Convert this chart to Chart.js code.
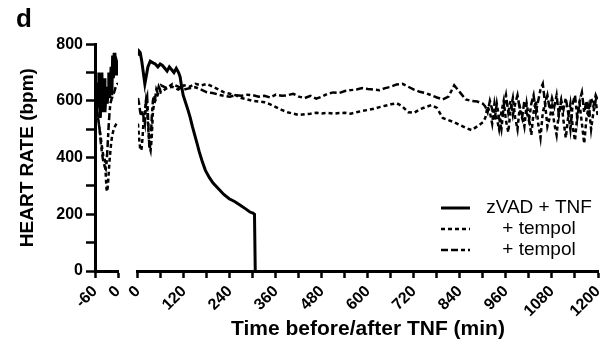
<!DOCTYPE html>
<html>
<head>
<meta charset="utf-8">
<script src="https://cdn.jsdelivr.net/npm/chart.js@4.4.1/dist/chart.umd.min.js"></script>
<style>
  html, body { margin: 0; padding: 0; background: #fff; }
  #wrap { width: 606px; height: 344px; }
</style>
</head>
<body>
<div id="wrap"><canvas id="hrChart"></canvas></div>
<script>
// time (min) before TNF
const preTime = [-60,-58,-56,-54,-52,-50,-48,-46,-44,-42,-40,-38,-36,-34,-32,-30,-28,-26,-24,-22,-20,-18,-16,-14,-12,-10,-8,-6,-4,-2,0];
const preSolid = [590,620,560,610,660,700,600,540,650,700,560,620,680,560,610,650,590,640,700,610,660,720,620,760,680,770,700,740,690,730,720];
const preDotted = [590,580,570,555,540,520,500,480,460,440,420,405,400,390,340,290,280,310,350,390,420,450,470,485,495,505,510,515,520,522,525];
const preDash = [600,590,575,560,540,520,500,470,440,420,400,385,375,365,360,380,420,470,520,560,590,600,610,615,625,630,640,650,655,660,660];

// zVAD + TNF after TNF
const solidTime = [0,3,6,10,14,18,22,26,32,38,45,52,58,64,70,76,82,88,94,100,106,110,114,118,124,130,136,142,148,154,160,168,176,186,196,210,224,238,252,266,280,292,300,304,306];
const solidPost = [760,775,770,740,700,660,690,720,740,735,730,720,730,725,715,705,720,710,700,715,700,685,650,620,595,570,543,510,480,451,420,385,355,330,310,290,270,255,245,233,220,208,204,200,0];

// tempol groups after TNF
const postTime = [0,3,6,9,12,15,18,21,24,27,30,33,36,39,42,45,48,51,54,57,60,
  75,90,105,120,135,150,165,180,195,210,225,240,255,270,285,300,315,330,345,360,375,390,405,420,435,450,465,480,495,510,525,540,555,570,585,600,615,630,645,660,675,690,705,720,735,750,765,780,795,810,825,840,855,870,885,900,
  906,912,918,924,930,936,942,948,954,960,966,972,978,984,990,996,1002,1008,1014,1020,1026,1032,1038,1044,1050,1056,1062,1068,1074,1080,1086,1092,1098,1104,1110,1116,1122,1128,1134,1140,1146,1152,1158,1164,1170,1176,1182,1188,1194,1200];
const postDotted = [520,470,430,425,470,540,560,600,570,500,440,425,470,560,590,600,610,620,630,640,630,
  645,650,640,655,650,660,655,660,650,640,630,625,620,610,605,600,598,595,588,578,568,560,555,550,553,555,558,556,558,555,557,558,555,560,565,568,572,578,583,588,592,580,560,558,570,578,585,575,540,532,525,515,505,497,510,525,
  540,580,560,520,590,540,500,560,600,530,490,570,610,540,500,580,550,510,590,540,480,560,600,520,470,560,590,510,540,580,520,480,560,600,530,470,540,590,510,460,550,590,520,450,540,580,500,560,600,540];
const postDash = [610,590,560,545,565,540,520,600,615,520,430,450,540,600,620,610,640,630,650,640,655,
  645,660,650,640,645,648,640,630,628,622,618,615,620,618,622,620,615,618,612,622,618,620,625,615,610,618,608,615,625,630,628,635,638,640,645,642,640,638,645,650,658,660,650,640,632,628,620,612,605,615,655,630,605,600,598,590,
  580,560,600,570,530,590,540,500,580,620,560,600,550,590,620,570,540,600,560,530,590,620,560,600,640,660,590,620,570,610,580,620,550,600,570,610,560,500,590,620,540,600,630,560,600,540,610,580,620,600];

const seriesLabels = ['zVAD + TNF', '+ tempol', '+ tempol'];

const pts = (t, v) => t.map((x, i) => ({x: x, y: v[i]}));
const FONT = "'Liberation Sans', Arial, Helvetica, sans-serif";
Chart.defaults.font.family = FONT;
Chart.defaults.color = '#000';

const solidStyle = {borderColor: '#000', borderWidth: 3, borderDash: []};
const dottedStyle = {borderColor: '#000', borderWidth: 2.5, borderDash: [4, 3]};
const dashStyle = {borderColor: '#000', borderWidth: 2.5, borderDash: [7, 3, 7, 3, 4, 3]};

// legend drawn inside the plot, lower right
const insideLegend = {
  id: 'insideLegend',
  afterDatasetsDraw(chart) {
    const {ctx, chartArea} = chart;
    ctx.save();
    [3, 4, 5].forEach((di, i) => {
      const ds = chart.data.datasets[di];
      const y = chartArea.bottom - 63 + i * 21;
      ctx.beginPath();
      ctx.setLineDash(ds.borderDash);
      ctx.lineWidth = ds.borderWidth;
      ctx.strokeStyle = ds.borderColor;
      ctx.moveTo(chartArea.right - 157, y);
      ctx.lineTo(chartArea.right - 128, y);
      ctx.stroke();
      ctx.setLineDash([]);
      ctx.fillStyle = '#000';
      ctx.font = '19px ' + FONT;
      ctx.textAlign = 'center';
      ctx.textBaseline = 'middle';
      ctx.fillText(seriesLabels[i], chartArea.right - 59, y);
    });
    ctx.restore();
  }
};

// the three bottom axes sit side by side, give them one common height
const xFit = scale => { scale.height = 71; scale.paddingRight = 0; };
const xTicks = {autoSkip: false, minRotation: 45, maxRotation: 45, padding: 4, font: {size: 16, weight: 'bold'}};
const xGrid = {drawOnChartArea: false, tickLength: 7, tickWidth: 2.5, tickColor: '#000'};
const xBorder = {color: '#000', width: 3};

new Chart(document.getElementById('hrChart'), {
  type: 'line',
  data: {
    datasets: [
      Object.assign({label: seriesLabels[0], data: pts(preTime, preSolid), xAxisID: 'xPre'}, solidStyle),
      Object.assign({label: seriesLabels[1], data: pts(preTime, preDotted), xAxisID: 'xPre'}, dottedStyle),
      Object.assign({label: seriesLabels[2], data: pts(preTime, preDash), xAxisID: 'xPre'}, dashStyle),
      Object.assign({label: seriesLabels[0], data: pts(solidTime, solidPost), xAxisID: 'xPost'}, solidStyle),
      Object.assign({label: seriesLabels[1], data: pts(postTime, postDotted), xAxisID: 'xPost'}, dottedStyle),
      Object.assign({label: seriesLabels[2], data: pts(postTime, postDash), xAxisID: 'xPost'}, dashStyle)
    ]
  },
  options: {
    responsive: true,
    maintainAspectRatio: false,
    animation: false,
    elements: {point: {radius: 0}, line: {tension: 0, fill: false}},
    layout: {padding: {left: 16, right: 8, top: 0, bottom: 2}},
    plugins: {
      legend: {display: false},
      tooltip: {enabled: false},
      title: {display: true, text: 'd', align: 'start', color: '#000',
        font: {size: 26, weight: 'bold'}, padding: {top: 4, bottom: 9}}
    },
    scales: {
      xPre: {
        type: 'linear', position: 'bottom', stack: 'time', stackWeight: 60,
        min: -60, max: 0,
        ticks: Object.assign({stepSize: 60}, xTicks),
        grid: xGrid, border: xBorder, afterFit: xFit
      },
      xGap: {
        type: 'linear', position: 'bottom', stack: 'time', stackWeight: 52,
        min: 0, max: 1,
        ticks: {display: false}, grid: {display: false}, border: {display: false},
        afterFit: xFit
      },
      xPost: {
        type: 'linear', position: 'bottom', stack: 'time', stackWeight: 1200,
        min: 0, max: 1200,
        ticks: Object.assign({stepSize: 60, callback: v => v % 120 === 0 ? v : ''}, xTicks),
        grid: xGrid, border: xBorder, afterFit: xFit,
        title: {display: true, text: 'Time before/after TNF (min)', color: '#000',
          font: {size: 21, weight: 'bold'}, padding: {top: 2, bottom: 0}}
      },
      y: {
        min: 0, max: 800,
        afterFit: scale => { scale.width = 79; },
        ticks: {stepSize: 100, autoSkip: false, padding: 3, font: {size: 16, weight: 'bold'},
          callback: v => v % 200 === 0 ? v : ''},
        grid: {drawOnChartArea: false, tickLength: 9, tickWidth: 2.5, tickColor: '#000'},
        border: {color: '#000', width: 3},
        title: {display: true, text: 'HEART RATE (bpm)', color: '#000',
          font: {size: 19, weight: 'bold'}, padding: {top: 0, bottom: 2}}
      }
    }
  },
  plugins: [insideLegend]
});
</script>
</body>
</html>
